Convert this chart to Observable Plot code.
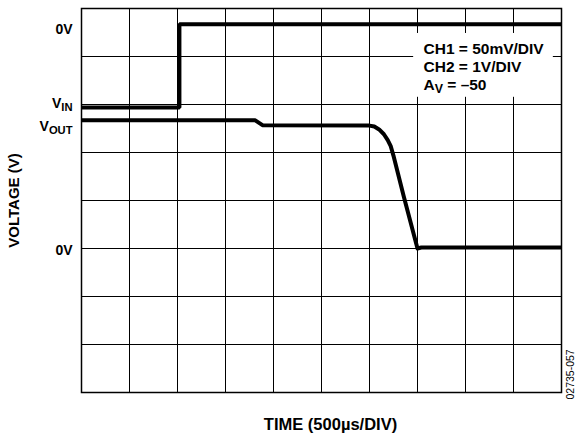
<!DOCTYPE html>
<html><head><meta charset="utf-8">
<script src="https://cdn.jsdelivr.net/npm/d3@7"></script>
<script src="https://cdn.jsdelivr.net/npm/@observablehq/plot@0.6"></script>
<style>body{margin:0;background:#fff} svg{display:block}</style>
</head><body><div id="chart"></div>
<script>
// grid divisions
const xDivisions = [0,1,2,3,4,5,6,7,8,9,10];
const yDivisions = [0,1,2,3,4,5,6,7,8];
// traces (x in divisions of 500us, y in screen divisions)
const vinTime  = [0, 2.04, 2.04, 10];
const vinLevel = [5.94, 5.94, 7.67, 7.67];
const voutTime  = [0, 3.62, 3.77, 6.0, 6.1, 6.2, 6.3, 6.38, 6.44, 6.5, 6.71, 7.0, 7.08, 10];
const voutLevel = [5.67, 5.67, 5.57, 5.56, 5.54, 5.48, 5.38, 5.26, 5.14, 4.93, 4.1, 3.0, 3.02, 3.02];
// labels
const traceLabels = ["0V", "V_{IN}", "V_{OUT}", "0V"];
const traceLabelLevels = [7.57, 6.02, 5.55, 2.96];
const legendLines = ["CH1 = 50mV/DIV", "CH2 = 1V/DIV", "A_{V} = \u201350"];
const xTitle = "TIME (500\u00b5s/DIV)";
const yTitle = "VOLTAGE (V)";
const figureCode = "02735-057";

const vin = vinTime.map((t, i) => ({t, v: vinLevel[i]}));
const vout = voutTime.map((t, i) => ({t, v: voutLevel[i]}));
const labels = traceLabels.map((s, i) => ({s, v: traceLabelLevels[i]}));
const font = "Liberation Sans, Arial, Helvetica, sans-serif";

const chart = Plot.plot({
  width: 577, height: 437,
  marginTop: 8, marginRight: 16, marginBottom: 45, marginLeft: 81,
  x: {domain: [0, 10], axis: null},
  y: {domain: [0, 8], axis: null},
  style: {fontFamily: font, background: "#fff", color: "#000"},
  marks: [
    Plot.ruleX(xDivisions, {x: d => d, stroke: "#000", strokeWidth: 1}),
    Plot.ruleY(yDivisions, {y: d => d, stroke: "#000", strokeWidth: 1}),
    Plot.rect([0], {x1: 6.92, x2: 9.83, y1: 6.15, y2: 7.48, fill: "#fff"}),
    Plot.frame({stroke: "#000", strokeWidth: 1.5}),
    Plot.line(vin, {x: "t", y: "v", stroke: "#000", strokeWidth: 4, strokeLinejoin: "miter", strokeLinecap: "butt"}),
    Plot.line(vout, {x: "t", y: "v", stroke: "#000", strokeWidth: 4, strokeLinejoin: "round", strokeLinecap: "butt"}),
    Plot.text(labels, {x: 0, y: "v", text: "s", textAnchor: "end", dx: -9, fontSize: 14, fontWeight: "bold", fill: "#000"}),
    Plot.text([legendLines.join("\n")], {x: 7.125, y: 7.33, text: d => d, textAnchor: "start", lineAnchor: "top", lineHeight: 1.17, fontSize: 15.5, fontWeight: "bold", fill: "#000"}),
    Plot.text([yTitle], {frameAnchor: "left", text: d => d, rotate: -90, textAnchor: "middle", lineAnchor: "middle", dx: -67, fontSize: 15, fontWeight: "bold", fill: "#000"}),
    Plot.text([xTitle], {frameAnchor: "bottom", text: d => d, textAnchor: "middle", lineAnchor: "middle", dx: 9, dy: 32, fontSize: 16.5, fontWeight: "bold", fill: "#000"}),
    Plot.text([figureCode], {frameAnchor: "bottom-right", text: d => d, rotate: -90, textAnchor: "start", lineAnchor: "middle", dx: 9, dy: 7, fontSize: 10.5, fill: "#000"})
  ]
});

// subscripts: "A_{V}" -> A + lowered smaller V
function applySubscripts(svg) {
  const ns = "http://www.w3.org/2000/svg";
  for (const el of [...svg.querySelectorAll("text, tspan")]) {
    for (const node of [...el.childNodes]) {
      if (node.nodeType !== 3 || !node.textContent.includes("_{")) continue;
      const s = node.textContent, frag = document.createDocumentFragment();
      const re = /_\{([^}]*)\}/g;
      let last = 0, m;
      while ((m = re.exec(s))) {
        if (m.index > last) frag.appendChild(document.createTextNode(s.slice(last, m.index)));
        const sub = document.createElementNS(ns, "tspan");
        sub.setAttribute("dy", "3"); sub.setAttribute("font-size", "0.8em");
        sub.textContent = m[1];
        frag.appendChild(sub);
        last = re.lastIndex;
        if (last < s.length) {
          const back = document.createElementNS(ns, "tspan");
          back.setAttribute("dy", "-3");
          back.textContent = s.slice(last).split("_{")[0];
          frag.appendChild(back);
          last += back.textContent.length;
          re.lastIndex = last;
        }
      }
      if (last < s.length) frag.appendChild(document.createTextNode(s.slice(last)));
      el.replaceChild(frag, node);
    }
  }
}
applySubscripts(chart);
document.getElementById("chart").appendChild(chart);
</script>
</body></html>
